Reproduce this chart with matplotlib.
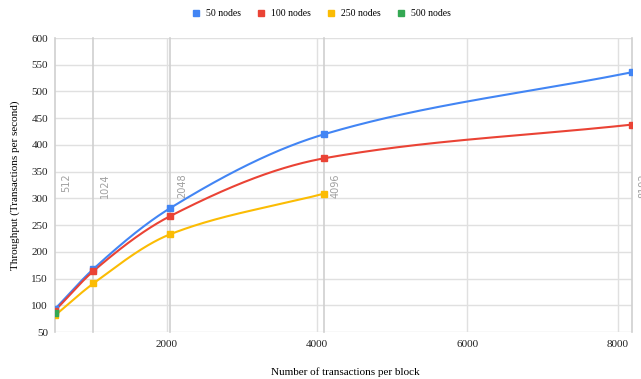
import matplotlib.pyplot as plt
import numpy as np
from matplotlib.lines import Line2D

# data
block_sizes = [512, 1024, 2048, 4096, 8192]
tp_50 = [93, 168, 282, 420, 536]
tp_100 = [90, 164, 267, 375, 438]
tp_250 = [81, 141, 233, 309]
tp_500 = [85]

series_names = ['50 nodes', '100 nodes', '250 nodes', '500 nodes']
series_vals = [tp_50, tp_100, tp_250, tp_500]
colors = ['#4285F4', '#EA4335', '#FBBC04', '#34A853']

xticks = [2000, 4000, 6000, 8000]
yticks = [50, 100, 150, 200, 250, 300, 350, 400, 450, 500, 550, 600]


def smooth(x, y, n=200):
    # monotone cubic hermite, only for drawing the line smoothly
    x = np.asarray(x, float)
    y = np.asarray(y, float)
    if len(x) < 3:
        return x, y
    h = np.diff(x)
    d = np.diff(y) / h
    m = np.zeros_like(y)
    m[0] = d[0]
    m[-1] = d[-1]
    for i in range(1, len(x) - 1):
        if d[i - 1] * d[i] <= 0:
            m[i] = 0
        else:
            w1 = 2 * h[i] + h[i - 1]
            w2 = h[i] + 2 * h[i - 1]
            m[i] = (w1 + w2) / (w1 / d[i - 1] + w2 / d[i])
    xs, ys = [], []
    for i in range(len(x) - 1):
        t = np.linspace(0, 1, n)
        h00 = 2 * t**3 - 3 * t**2 + 1
        h10 = t**3 - 2 * t**2 + t
        h01 = -2 * t**3 + 3 * t**2
        h11 = t**3 - t**2
        xs.append(x[i] + t * h[i])
        ys.append(h00 * y[i] + h10 * h[i] * m[i] + h01 * y[i + 1] + h11 * h[i] * m[i + 1])
    return np.concatenate(xs), np.concatenate(ys)


plt.rcParams['font.family'] = ['Liberation Serif', 'DejaVu Serif']

fig = plt.figure(figsize=(6.41, 3.79), dpi=100)
ax = fig.add_axes([55 / 641, 1 - 332 / 379, 577 / 641, 294 / 379])

ax.set_xlim(512, 8192)
ax.set_ylim(50, 600)
ax.set_xticks(xticks)
ax.set_yticks(yticks)
ax.grid(True, color='#e0e0e0', lw=1)
ax.set_axisbelow(True)
for s in ax.spines.values():
    s.set_visible(False)
ax.tick_params(length=0, labelsize=8, colors='#222222')
ax.tick_params(axis='x', pad=6)
ax.tick_params(axis='y', pad=5)

# annotation lines at the block sizes
for b in block_sizes:
    ax.axvline(b, color='#d0d0d0', lw=1.2, zorder=1, clip_on=False)
    ax.text(b + 85, 346, str(b), rotation=90, ha='left', va='top',
            fontsize=7, color='#a0a0a0', family='DejaVu Sans', clip_on=False)

for name, vals, c in zip(series_names, series_vals, colors):
    xs = block_sizes[:len(vals)]
    sx, sy = smooth(xs, vals)
    ax.plot(sx, sy, color=c, lw=1.5, zorder=3)
    ax.plot(xs, vals, 's', color=c, ms=5, zorder=4)

ax.set_ylabel('Throughput (Transactions per second)', fontsize=8, labelpad=8)
fig.text(345 / 641, 1 - 372 / 379, 'Number of transactions per block',
         fontsize=8, ha='center', va='center')

handles = [Line2D([], [], marker='s', ls='none', color=c, ms=5) for c in colors]
fig.legend(handles, series_names, loc='center', bbox_to_anchor=(321 / 641, 1 - 14 / 379),
           ncol=4, frameon=False, fontsize=7, handletextpad=0.5, columnspacing=1.6,
           handlelength=1.0)

fig.savefig('out.png', dpi=100)
